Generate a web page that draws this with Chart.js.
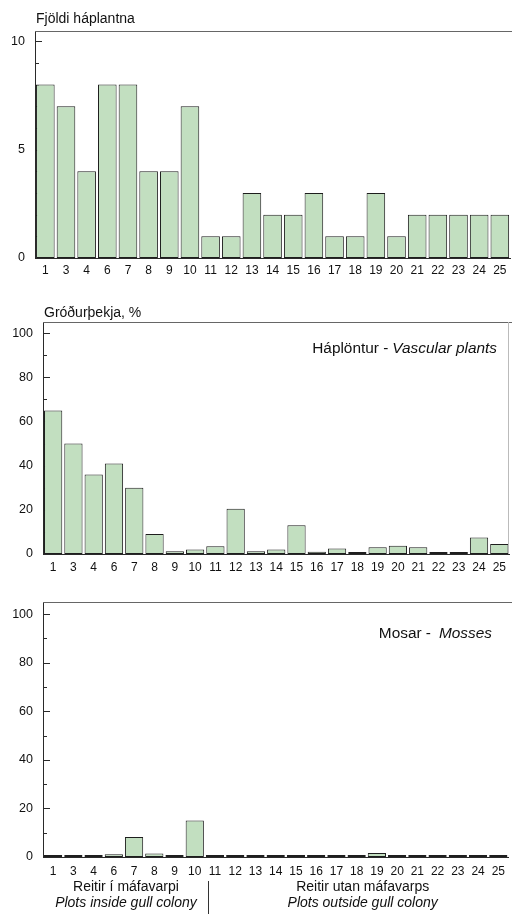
<!DOCTYPE html>
<html>
<head>
<meta charset="utf-8">
<script src="https://cdn.jsdelivr.net/npm/chart.js@4/dist/chart.umd.min.js"></script>
<style>
  html, body { margin: 0; padding: 0; background: #fff; }
  #page { position: relative; width: 512px; height: 916px; overflow: hidden; background: #fff; }
  #page canvas { position: absolute; left: 0; }
</style>
</head>
<body>
<div id="page">
  <canvas id="countChart" width="512" height="285" style="top:0px"></canvas>
  <canvas id="vascChart" width="512" height="295" style="top:285px"></canvas>
  <canvas id="mossChart" width="512" height="336" style="top:580px"></canvas>
</div>
<script>
// Plot numbers along the x axis (plots 2 and 5 are not part of the survey)
const plots = ['1', '3', '4', '6', '7', '8', '9', '10', '11', '12', '13', '14', '15',
               '16', '17', '18', '19', '20', '21', '22', '23', '24', '25'];
// Last plot that lies inside the gull colony
const lastInsidePlot = '10';

// Number of vascular plant species per plot
const speciesCount = [8, 7, 4, 8, 8, 4, 4, 7, 1, 1, 3, 2, 2, 3, 1, 1, 3, 1, 2, 2, 2, 2, 2];
// Vascular plant cover, %
const vascularCover = [65, 50, 36, 41, 30, 9, 1.3, 2, 3.5, 20.5, 1.2, 2, 13, 1, 2.5, 0.3,
                       3, 3.7, 3, 0.2, 0.2, 7.5, 4.5];
// Moss cover, %
const mossCover = [0, 0, 0, 1.1, 8.2, 1.4, 0, 15, 0, 0, 0, 0, 0, 0, 0, 0, 1.6, 0, 0, 0, 0, 0, 0];

// Text
const countTitle = 'Fjöldi háplantna';
const coverTitle = 'Gróðurþekja, %';
const vascLabel = ['Háplöntur -', 'Vascular plants'];
const mossLabel = ['Mosar -', 'Mosses'];
const insideLabel = ['Reitir í máfavarpi', 'Plots inside gull colony'];
const outsideLabel = ['Reitir utan máfavarps', 'Plots outside gull colony'];

const FONT = "'Liberation Sans', Arial, Helvetica, sans-serif";
const TEXT = '#111';
const AXIS = '#2a2a2a';
const BAR_FILL = '#c2dfc0';
const BAR_EDGE = '#1e1e1e';

function drawInnerTicks(chart, minorStep) {
  const y = chart.scales.y;
  const ctx = chart.ctx;
  const x0 = chart.chartArea.left;
  const majors = new Set(y.ticks.map(t => t.value));
  ctx.save();
  ctx.strokeStyle = AXIS;
  ctx.lineWidth = 1;
  const n = Math.floor(y.max / minorStep + 1e-9);
  for (let i = 1; i <= n; i++) {
    const v = Math.round(i * minorStep * 1000) / 1000;
    const py = Math.round(y.getPixelForValue(v)) + 0.5;
    const len = majors.has(v) ? 7 : 4;
    ctx.beginPath();
    ctx.moveTo(x0, py);
    ctx.lineTo(x0 + len, py);
    ctx.stroke();
  }
  ctx.restore();
}

function drawMixedLabel(ctx, parts, xEnd, baseline, size, gap) {
  ctx.save();
  ctx.fillStyle = TEXT;
  ctx.textBaseline = 'alphabetic';
  ctx.textAlign = 'right';
  ctx.font = `italic ${size}px ${FONT}`;
  const w = ctx.measureText(parts[1]).width;
  ctx.fillText(parts[1], xEnd, baseline);
  ctx.font = `${size}px ${FONT}`;
  ctx.fillText(parts[0], xEnd - w - gap, baseline);
  ctx.restore();
}

function decorPlugin(o) {
  return {
    id: 'panelDecor',
    beforeDatasetsDraw(chart) {
      drawInnerTicks(chart, o.minorStep);
    },
    afterDraw(chart) {
      const ctx = chart.ctx;
      const a = chart.chartArea;
      ctx.save();
      // frame: top line, optional right line
      ctx.lineWidth = 1;
      ctx.strokeStyle = '#666';
      ctx.beginPath();
      ctx.moveTo(a.left, Math.round(a.top) + 0.5);
      ctx.lineTo(chart.width, Math.round(a.top) + 0.5);
      ctx.stroke();
      if (o.rightEdge) {
        ctx.strokeStyle = '#bbb';
        ctx.beginPath();
        ctx.moveTo(Math.round(a.right) - 0.5, a.top);
        ctx.lineTo(Math.round(a.right) - 0.5, a.bottom);
        ctx.stroke();
      }
      // panel title
      if (o.title) {
        ctx.fillStyle = TEXT;
        ctx.font = `14px ${FONT}`;
        ctx.textAlign = 'left';
        ctx.textBaseline = 'alphabetic';
        ctx.fillText(o.title, a.left + 1, o.titleBase);
      }
      ctx.restore();
      if (o.label) {
        drawMixedLabel(ctx, o.label.parts, o.label.xEnd, o.label.base, 15.4, o.label.gap);
      }
      if (o.groups) {
        const xs = chart.scales.x;
        const half = (xs.getPixelForValue(1) - xs.getPixelForValue(0)) / 2;
        const split = plots.indexOf(lastInsidePlot);
        const left = xs.getPixelForValue(0) - half;
        const mid = xs.getPixelForValue(split) + half;
        const right = xs.getPixelForValue(plots.length - 1) + half;
        ctx.save();
        ctx.fillStyle = TEXT;
        ctx.textAlign = 'center';
        ctx.textBaseline = 'alphabetic';
        const cIn = (left + mid) / 2 + 2;
        const cOut = (mid + right) / 2 + 6;
        ctx.font = `14px ${FONT}`;
        ctx.fillText(insideLabel[0], cIn, 310.5);
        ctx.fillText(outsideLabel[0], cOut, 310.5);
        ctx.font = `italic 14px ${FONT}`;
        ctx.fillText(insideLabel[1], cIn, 326.5);
        ctx.fillText(outsideLabel[1], cOut, 327);
        // separator between the two plot groups
        ctx.strokeStyle = '#333';
        ctx.lineWidth = 1;
        const sx = Math.round(mid + 3) + 0.5;
        ctx.beginPath();
        ctx.moveTo(sx, 301);
        ctx.lineTo(sx, 334);
        ctx.stroke();
        ctx.restore();
      }
    }
  };
}

function barChart(id, values, o) {
  return new Chart(document.getElementById(id), {
    type: 'bar',
    data: {
      labels: plots,
      datasets: [{
        data: values,
        backgroundColor: BAR_FILL,
        borderColor: BAR_EDGE,
        borderWidth: 1,
        borderSkipped: false,
        barPercentage: 0.9,
        categoryPercentage: 1,
        minBarLength: o.minBar || 0
      }]
    },
    options: {
      responsive: false,
      animation: false,
      devicePixelRatio: 1,
      layout: { padding: { top: o.top, right: o.right, left: 0, bottom: 0 } },
      plugins: {
        legend: { display: false },
        tooltip: { enabled: false },
        title: { display: false }
      },
      scales: {
        x: {
          grid: { display: false, drawTicks: false },
          border: { display: true, color: AXIS, width: 1 },
          ticks: {
            color: TEXT, font: { family: FONT, size: 12 },
            padding: o.xPad, autoSkip: false, maxRotation: 0, minRotation: 0
          },
          afterFit(s) { s.height = o.xHeight; }
        },
        y: {
          min: 0,
          max: o.max,
          grid: { display: false, drawTicks: false },
          border: { display: true, color: AXIS, width: 1 },
          ticks: {
            stepSize: o.step, includeBounds: false,
            color: TEXT, font: { family: FONT, size: 12.5 }, padding: 10
          },
          afterFit(s) { s.width = o.left; }
        }
      }
    },
    plugins: [decorPlugin(o)]
  });
}

barChart('countChart', speciesCount, {
  top: 31, right: 0, left: 35, xHeight: 27, xPad: 5.5,
  max: 10.47, step: 5, minorStep: 1,
  title: countTitle, titleBase: 22.5
});

barChart('vascChart', vascularCover, {
  top: 37, right: 1, left: 43, xHeight: 26, xPad: 6,
  max: 105, step: 20, minorStep: 10, minBar: 2, rightEdge: true,
  title: coverTitle, titleBase: 31.5,
  label: { parts: vascLabel, xEnd: 497, base: 67.5, gap: 4 }
});

barChart('mossChart', mossCover, {
  top: 22, right: 1, left: 43, xHeight: 59, xPad: 7,
  max: 105, step: 20, minorStep: 10, minBar: 2,
  label: { parts: mossLabel, xEnd: 492, base: 58, gap: 8 },
  groups: true
});
</script>
</body>
</html>
